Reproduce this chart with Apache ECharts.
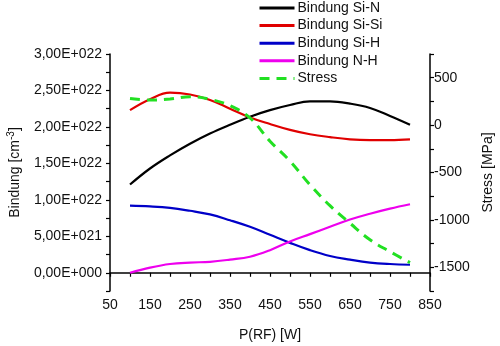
<!DOCTYPE html>
<html>
<head>
<meta charset="utf-8">
<script src="https://cdn.jsdelivr.net/npm/echarts@6/dist/echarts.min.js"></script>
<style>
html,body{margin:0;padding:0;background:#fff;}
#chart{width:500px;height:346px;}
</style>
</head>
<body>
<div id="chart"></div>
<script>
const xValues = [100,150,200,250,300,350,400,450,500,550,600,650,700,750,800];
const bindungSiN  = [1.21e22,1.43e22,1.61e22,1.77e22,1.91e22,2.03e22,2.14e22,2.23e22,2.30e22,2.35e22,2.35e22,2.32e22,2.26e22,2.15e22,2.03e22];
const bindungSiSi = [2.23e22,2.38e22,2.47e22,2.445e22,2.37e22,2.25e22,2.13e22,2.04e22,1.96e22,1.90e22,1.86e22,1.83e22,1.82e22,1.82e22,1.83e22];
const bindungSiH  = [0.92e22,0.91e22,0.89e22,0.85e22,0.80e22,0.72e22,0.63e22,0.52e22,0.41e22,0.31e22,0.23e22,0.18e22,0.14e22,0.12e22,0.11e22];
const bindungNH   = [0.00e22,0.07e22,0.12e22,0.14e22,0.15e22,0.18e22,0.22e22,0.31e22,0.43e22,0.53e22,0.63e22,0.73e22,0.81e22,0.88e22,0.94e22];
const stress      = [280,265,275,300,272,205,75,-170,-380,-630,-850,-1035,-1210,-1335,-1450];

const xTickValues = [50,150,250,350,450,550,650,750,850];
const xTickLabels = ['50','150','250','350','450','550','650','750','850'];
const leftTickValues = [0,5e21,1e22,1.5e22,2e22,2.5e22,3e22];
const leftTickLabels = ['0,00E+000','5,00E+021','1,00E+022','1,50E+022','2,00E+022','2,50E+022','3,00E+022'];
const rightTickValues = [-1500,-1000,-500,0,500];
const rightTickLabels = ['-1500','-1000','-500','0','500'];

function pick(values, labels, tol){
  return function(v){
    for (let i=0;i<values.length;i++){ if (Math.abs(values[i]-v) <= tol) return labels[i]; }
    return '';
  };
}
const pair = (ys) => xValues.map((x,i)=>[x, ys[i]]);

const font = 'Liberation Sans, Arial, sans-serif';
const chart = echarts.init(document.getElementById('chart'), null, {renderer:'canvas'});
const axisLine = {show:true, lineStyle:{color:'#000', width:1.5}};
const axisTick = {show:true, inside:false, length:4, lineStyle:{color:'#000', width:1.2}};

chart.setOption({
  animation:false,
  backgroundColor:'#fff',
  textStyle:{fontFamily:font},
  grid:{left:110, right:70, top:54, bottom:55, containLabel:false, outerBoundsMode:'none'},
  legend:{
    orient:'vertical', left:258, top:1, padding:0,
    itemWidth:35, itemHeight:14, itemGap:3.6,
    itemStyle:{opacity:0},
    lineStyle:{width:3},
    textStyle:{fontFamily:font, fontSize:14, color:'#111', padding:[0,0,0,-2]},
    data:['Bindung Si-N','Bindung Si-Si','Bindung Si-H','Bindung N-H','Stress']
  },
  xAxis:{
    type:'value', min:50, max:850, interval:50,
    name:'P(RF) [W]', nameLocation:'middle', nameGap:37,
    nameTextStyle:{fontFamily:font, fontSize:14, color:'#111'},
    axisLine:axisLine, axisTick:axisTick,
    axisLabel:{fontFamily:font, fontSize:14, color:'#111', margin:7, formatter:pick(xTickValues,xTickLabels,0.5)},
    splitLine:{show:false}
  },
  yAxis:[{
    type:'value', position:'left', min:-2.5e21, max:3e22, interval:2.5e21,
    name:'{a|Bindung [cm}{s|-3}{a|]}', nameLocation:'middle', nameGap:86, nameRotate:90,
    nameTextStyle:{fontFamily:font, fontSize:14, color:'#111',
      rich:{a:{fontFamily:font, fontSize:14, color:'#111'}, s:{fontFamily:font, fontSize:10, color:'#111', verticalAlign:'top', padding:[0,0,8,0]}}},
    axisLine:axisLine, axisTick:axisTick,
    axisLabel:{fontFamily:font, fontSize:14, color:'#111', margin:8, formatter:pick(leftTickValues,leftTickLabels,1e15)},
    splitLine:{show:false}
  },{
    type:'value', position:'right', min:-1750, max:750, interval:250,
    name:'Stress [MPa]', nameLocation:'middle', nameGap:51, nameRotate:90,
    nameTextStyle:{fontFamily:font, fontSize:14, color:'#111'},
    axisLine:axisLine, axisTick:axisTick,
    axisLabel:{fontFamily:font, fontSize:14, color:'#111', margin:4, formatter:pick(rightTickValues,rightTickLabels,0.5)},
    splitLine:{show:false}
  }],
  series:[
    {name:'Bindung Si-N', type:'line', yAxisIndex:0, data:pair(bindungSiN), smooth:0.4, symbol:'none', lineStyle:{color:'#000', width:2.2}, itemStyle:{color:'#000'}},
    {name:'Bindung Si-Si', type:'line', yAxisIndex:0, data:pair(bindungSiSi), smooth:0.4, symbol:'none', lineStyle:{color:'#e00000', width:2.2}, itemStyle:{color:'#e00000'}},
    {name:'Bindung Si-H', type:'line', yAxisIndex:0, data:pair(bindungSiH), smooth:0.4, symbol:'none', lineStyle:{color:'#0000c8', width:2.2}, itemStyle:{color:'#0000c8'}},
    {name:'Bindung N-H', type:'line', yAxisIndex:0, data:pair(bindungNH), smooth:0.4, symbol:'none', lineStyle:{color:'#ee00ee', width:2.2}, itemStyle:{color:'#ee00ee'}},
    {name:'Stress', type:'line', yAxisIndex:1, data:pair(stress), smooth:0.4, symbol:'none', lineStyle:{color:'#22e022', width:3, type:[10,7]}, itemStyle:{color:'#22e022'}}
  ]
});
</script>
</body>
</html>
